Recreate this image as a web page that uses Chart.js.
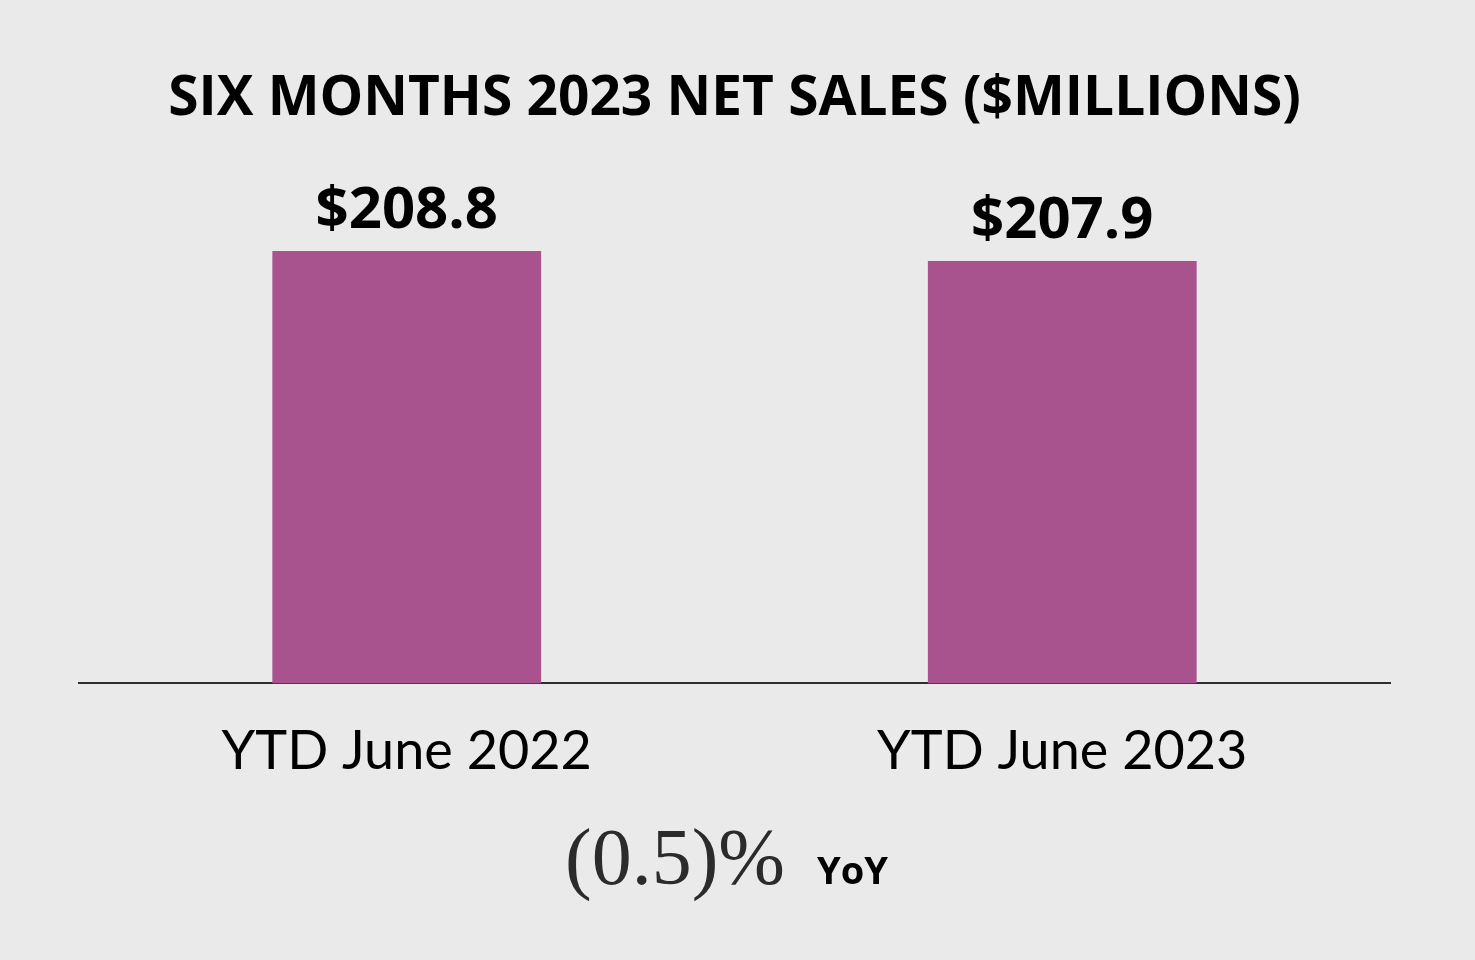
<!DOCTYPE html>
<html>
<head>
<meta charset="utf-8">
<script src="https://cdn.jsdelivr.net/npm/chart.js@4"></script>
<style>
  html, body { margin: 0; padding: 0; background: #EAEAEA; }
  .wrap { width: 1475px; height: 960px; position: relative; }
</style>
</head>
<body>
<div class="wrap"><canvas id="salesChart"></canvas></div>
<script>
const categories = ["YTD June 2022", "YTD June 2023"];
const netSales = [208.8, 207.9];
const yoyChange = "(0.5)%";
const yoyLabel = "YoY";

const purple = "#A8538D",
  ink = "#000000",
  axisGray = "#2E2E2E";

// value labels above each bar
const barLabels = {
  id: "barLabels",
  afterDatasetsDraw(chart) {
    const { ctx } = chart;
    const meta = chart.getDatasetMeta(0);
    ctx.save();
    ctx.fillStyle = ink;
    ctx.font = "700 58px 'Open Sans'";
    ctx.textAlign = "center";
    ctx.textBaseline = "alphabetic";
    meta.data.forEach((bar, i) => {
      ctx.fillText("$" + netSales[i].toFixed(1), bar.x, bar.y - 23);
    });
    ctx.restore();
  },
};

// year-over-year note under the axis
const yoyNote = {
  id: "yoyNote",
  afterDraw(chart) {
    const { ctx, chartArea } = chart;
    ctx.save();
    const serif = "400 80px 'Liberation Serif'";
    const sans = "700 38px 'Open Sans'";
    ctx.font = serif;
    const w1 = ctx.measureText(yoyChange).width;
    ctx.font = sans;
    const w2 = ctx.measureText(yoyLabel).width;
    const gap = 32;
    const cx = (chartArea.left + chartArea.right) / 2 - 8;
    let x = cx - (w1 + gap + w2) / 2;
    const y = 884;
    ctx.textBaseline = "alphabetic";
    ctx.textAlign = "left";
    ctx.font = serif;
    ctx.fillStyle = "#2B2B2B";
    ctx.fillText(yoyChange, x, y);
    ctx.font = sans;
    ctx.fillStyle = ink;
    ctx.fillText(yoyLabel, x + w1 + gap, y);
    ctx.restore();
  },
};

new Chart(document.getElementById("salesChart"), {
  type: "bar",
  data: {
    labels: categories,
    datasets: [
      {
        data: netSales,
        backgroundColor: purple,
        borderWidth: 0,
        barPercentage: 0.41,
        categoryPercentage: 1,
      },
    ],
  },
  options: {
    responsive: true,
    maintainAspectRatio: false,
    animation: false,
    layout: { padding: { left: 79, right: 85, top: 0, bottom: 140 } },
    plugins: {
      legend: { display: false },
      tooltip: { enabled: false },
      title: {
        display: true,
        text: "SIX MONTHS 2023 NET SALES ($MILLIONS)",
        color: ink,
        font: { family: "'Open Sans'", size: 55, weight: "700" },
        padding: { top: 66, bottom: 50 },
      },
    },
    scales: {
      x: {
        grid: { display: false, drawTicks: false },
        border: { display: true, color: axisGray, width: 2 },
        ticks: {
          color: ink,
          padding: 36,
          font: { family: "Lato", size: 54, weight: "400" },
        },
      },
      y: {
        display: false,
        min: 170,
        max: 215,
      },
    },
  },
  plugins: [barLabels, yoyNote],
});
</script>
</body>
</html>
